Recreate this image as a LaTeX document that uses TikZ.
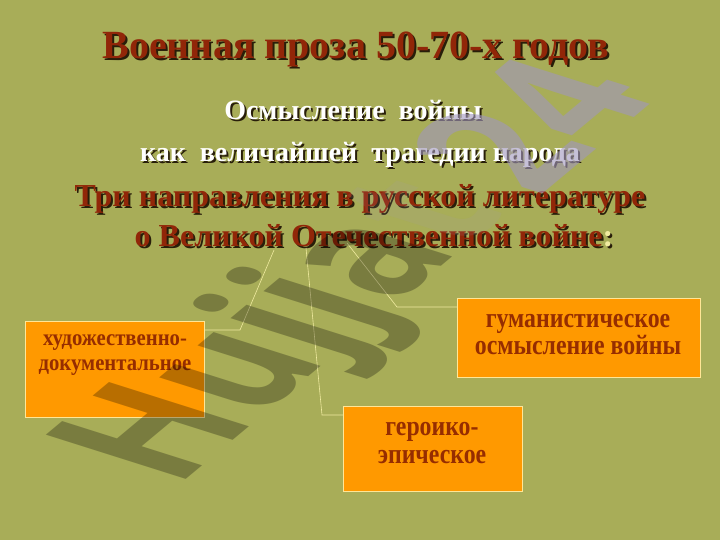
\documentclass[tikz,border=0pt]{standalone}
\usepackage{fontspec}
\setmainfont{Liberation Serif}
\newfontfamily\wmfont{Open Sans}
\definecolor{bg}{RGB}{168,173,88}
\definecolor{titlered}{RGB}{145,38,8}
\definecolor{shadowc}{RGB}{40,30,10}
\definecolor{boxorange}{RGB}{255,153,0}
\definecolor{boxedge}{RGB}{255,230,150}
\definecolor{boxtext}{RGB}{150,45,0}
\definecolor{linecol}{RGB}{240,235,160}
\definecolor{colon}{RGB}{240,235,160}
\definecolor{wmlight}{RGB}{160,150,190}
\tikzset{
  redtext/.style={text=titlered, inner sep=0pt, anchor=base},
  shadowtext/.style={text=shadowc, inner sep=0pt, anchor=base},
  whitetext/.style={text=white, inner sep=0pt, anchor=base},
  kbox/.style={draw=boxedge, line width=0.8pt, fill=boxorange, inner sep=0pt, anchor=north west},
  ktext/.style={text=boxtext, align=center, inner sep=0pt, anchor=base},
  conn/.style={draw=linecol, line width=0.6pt},
  wm/.style={font=\wmfont\bfseries\fontsize{100}{100}\selectfont, inner sep=0pt, transform shape},
}
\begin{document}
\begin{tikzpicture}[x=1pt,y=-1pt]
\fill[bg] (0,0) rectangle (720,540);
\useasboundingbox (0,0) rectangle (720,540);
% title
\node[shadowtext, font=\fontsize{40}{44}\selectfont\bfseries] at (358,61) {Военная проза 50-70-х годов};
\node[redtext, font=\fontsize{40}{44}\selectfont\bfseries] (title) at (356,59) {Военная проза 50-70-х годов};
% subtitle
\node[shadowtext, font=\fontsize{28}{32}\selectfont\bfseries] at (355,122) {Осмысление\ \ войны};
\node[whitetext, font=\fontsize{28}{32}\selectfont\bfseries] (sub1) at (353,120) {Осмысление\ \ войны};
\node[shadowtext, font=\fontsize{28}{32}\selectfont\bfseries] at (362,164) {как\ \ величайшей\ \ трагедии народа};
\node[whitetext, font=\fontsize{28}{32}\selectfont\bfseries] (sub2) at (360,162) {как\ \ величайшей\ \ трагедии народа};
% heading
\node[shadowtext, font=\fontsize{32}{36}\selectfont\bfseries] at (362,209) {Три направления в русской литературе};
\node[redtext, font=\fontsize{32}{36}\selectfont\bfseries] (h1) at (360,207) {Три направления в русской литературе};
\node[shadowtext, font=\fontsize{32}{36}\selectfont\bfseries] at (376,248) {о Великой Отечественной войне:};
\node[redtext, font=\fontsize{32}{36}\selectfont\bfseries] (h2) at (374,246) {о Великой Отечественной войне\textcolor{colon}{:}};
% boxes
\node[kbox, minimum width=179pt, minimum height=96pt] (b1) at (25,321) {};
\node[kbox, minimum width=243pt, minimum height=79pt] (b3) at (457,298) {};
\node[kbox, minimum width=179pt, minimum height=85pt] (b2) at (343,406) {};
\node[ktext, font=\fontsize{23}{25}\selectfont\bfseries] at (115,345) {\scalebox{0.9}[1]{художественно-}};
\node[ktext, font=\fontsize{23}{25}\selectfont\bfseries] at (115,370) {\scalebox{0.9}[1]{документальное}};
\node[ktext, font=\fontsize{28}{30}\selectfont\bfseries] at (578,327) {\scalebox{0.85}[1]{гуманистическое}};
\node[ktext, font=\fontsize{28}{30}\selectfont\bfseries] at (578,354) {\scalebox{0.85}[1]{осмысление войны}};
\node[ktext, font=\fontsize{28}{30}\selectfont\bfseries] at (432,435) {\scalebox{0.85}[1]{героико-}};
\node[ktext, font=\fontsize{28}{30}\selectfont\bfseries] at (432,463) {\scalebox{0.85}[1]{эпическое}};
% connectors
\coordinate (c1) at (274,250);
\coordinate (c2) at (306,248);
\coordinate (c3) at (347,243);
\draw[conn] (c1) -- (240,330) -- (b1.east |- 0,330);
\draw[conn] (c2) -- (322,415) -- (b2.west |- 0,415);
\draw[conn] (c3) -- (397,307) -- (b3.west |- 0,307);
% watermark
\begin{scope}[shift={(176,488)}, cm={1.08,0.90,-1.96,0.62,(0,0)}]
\node[wm, text=black, opacity=0.28, anchor=base west] (wm1) at (0,0) {Hujja};
\node[wm, text=wmlight, opacity=0.12, anchor=base west] (wm2) at (wm1.base east) {t};
\node[wm, text=wmlight, opacity=0.6, anchor=base west] (wm3) at (wm2.base east) {\hspace{18pt}\raisebox{-5pt}{24}};
\end{scope}
\end{tikzpicture}
\end{document}
